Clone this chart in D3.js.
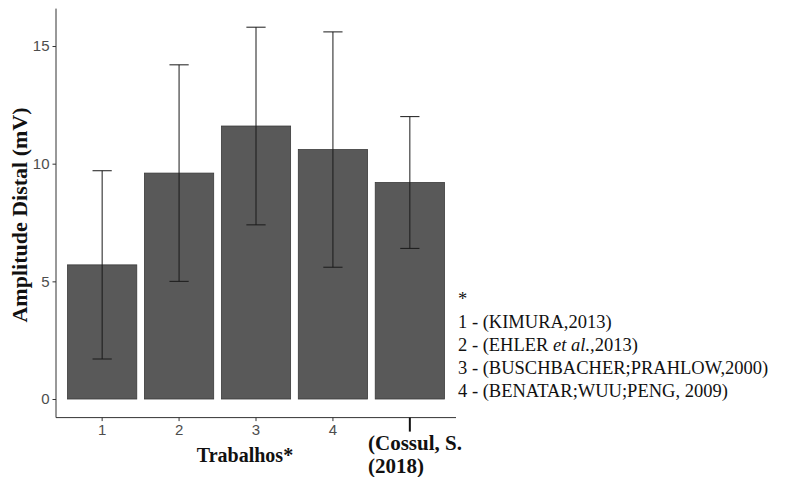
<!DOCTYPE html>
<html>
<head>
<meta charset="utf-8">
<script src="https://cdn.jsdelivr.net/npm/d3@7"></script>
<style>
  html, body { margin: 0; padding: 0; background: #fff; }
  svg { display: block; }
</style>
</head>
<body>
<svg id="chart" width="785" height="477"></svg>
<script>
// Distal amplitude (mV): mean and standard deviation per study
const categories = ["1", "2", "3", "4", "5"];
const means = [5.7, 9.6, 11.6, 10.6, 9.2];
const sds = [4.0, 4.6, 4.2, 5.0, 2.8];
const yTicks = [0, 5, 10, 15];
const studyNotes = [
  ["1 - (KIMURA,2013)"],
  ["2 - (EHLER ", "et al.,", "2013)"],
  ["3 - (BUSCHBACHER;PRAHLOW,2000)"],
  ["4 - (BENATAR;WUU;PENG, 2009)"]
];
const ownLabel = ["(Cossul, S.", "(2018)"];

const svg = d3.select("#chart");
const panel = { left: 56, right: 456, top: 8.6, bottom: 417.6 };

// discrete axis: 0.6 band expansion on each side, bars fill 90% of a step
const x = d3.scaleBand()
  .domain(categories)
  .range([panel.left, panel.right])
  .paddingInner(0.1)
  .paddingOuter(0.15);
const bw = x.bandwidth();
const step = x.step();

const yMax = d3.max(means.map((m, i) => m + sds[i]));
const pad = yMax * 0.05;
const y = d3.scaleLinear().domain([-pad, yMax + pad]).range([panel.bottom, panel.top]);

// bars
svg.append("g").selectAll("rect")
  .data(means)
  .join("rect")
  .attr("x", (d, i) => x(categories[i]))
  .attr("width", bw)
  .attr("y", d => y(d))
  .attr("height", d => y(0) - y(d))
  .attr("fill", "#595959")
  .attr("stroke", "#3a3a3a")
  .attr("stroke-width", 0.8);

// error bars
const eb = svg.append("g").attr("stroke", "#1a1a1a").attr("stroke-width", 1).attr("fill", "none");
const capW = step * 0.25;
means.forEach((m, i) => {
  const cx = x(categories[i]) + bw / 2;
  const lo = y(m - sds[i]), hi = y(m + sds[i]);
  eb.append("line").attr("x1", cx).attr("x2", cx).attr("y1", lo).attr("y2", hi);
  eb.append("line").attr("x1", cx - capW / 2).attr("x2", cx + capW / 2).attr("y1", hi).attr("y2", hi);
  eb.append("line").attr("x1", cx - capW / 2).attr("x2", cx + capW / 2).attr("y1", lo).attr("y2", lo);
});

// y axis
const yAxis = d3.axisLeft(y).tickValues(yTicks).tickSize(3.5).tickPadding(3).tickFormat(d3.format("d"));
const gy = svg.append("g").attr("transform", `translate(${panel.left},0)`).call(yAxis);
gy.select(".domain").attr("d", `M0,${panel.top}V${panel.bottom}`).attr("stroke", "#333");
gy.selectAll(".tick line").attr("stroke", "#333");
gy.selectAll(".tick text")
  .attr("fill", "#4D4D4D")
  .style("font-family", "'Liberation Sans', Arial, sans-serif")
  .style("font-size", "15px");

// x axis: numeric ticks for the four cited studies
const xAxis = d3.axisBottom(x).tickValues(categories.slice(0, 4)).tickSize(3.5).tickPadding(3);
const gx = svg.append("g").attr("transform", `translate(0,${panel.bottom})`).call(xAxis);
gx.select(".domain").attr("d", `M${panel.left},0H${panel.right}`).attr("stroke", "#333");
gx.selectAll(".tick line").attr("stroke", "#333");
gx.selectAll(".tick text")
  .attr("fill", "#4D4D4D")
  .style("font-family", "'Liberation Sans', Arial, sans-serif")
  .style("font-size", "15px");

// fifth category: own data, marked with a heavier tick and a bold label
const c5 = x(categories[4]) + bw / 2;
svg.append("line")
  .attr("x1", c5).attr("x2", c5)
  .attr("y1", panel.bottom).attr("y2", panel.bottom + 14)
  .attr("stroke", "#111").attr("stroke-width", 2);
const own = svg.append("text")
  .attr("x", 368).attr("y", 450)
  .attr("fill", "#111")
  .style("font-family", "'Liberation Serif', 'Times New Roman', serif")
  .style("font-weight", "bold")
  .style("font-size", "21px");
ownLabel.forEach((t, i) => {
  own.append("tspan").attr("x", 368).attr("dy", i === 0 ? 0 : 23).text(t);
});

// axis titles
svg.append("text")
  .attr("x", 245).attr("y", 462)
  .attr("text-anchor", "middle")
  .attr("fill", "#111")
  .style("font-family", "'Liberation Serif', 'Times New Roman', serif")
  .style("font-weight", "bold")
  .style("font-size", "20px")
  .text("Trabalhos*");

svg.append("text")
  .attr("transform", "translate(27,215) rotate(-90)")
  .attr("text-anchor", "middle")
  .attr("fill", "#111")
  .style("font-family", "'Liberation Serif', 'Times New Roman', serif")
  .style("font-weight", "bold")
  .style("font-size", "22px")
  .text("Amplitude Distal (mV)");

// study key
const key = svg.append("g")
  .attr("fill", "#111")
  .style("font-family", "'Liberation Serif', 'Times New Roman', serif")
  .style("font-size", "18.5px");
key.append("text").attr("x", 458).attr("y", 305).text("*");
studyNotes.forEach((parts, i) => {
  const t = key.append("text").attr("x", 458).attr("y", 328 + i * 23);
  parts.forEach(p => {
    const s = t.append("tspan").text(p);
    if (p === "et al.,") s.style("font-style", "italic");
  });
});
</script>
</body>
</html>
